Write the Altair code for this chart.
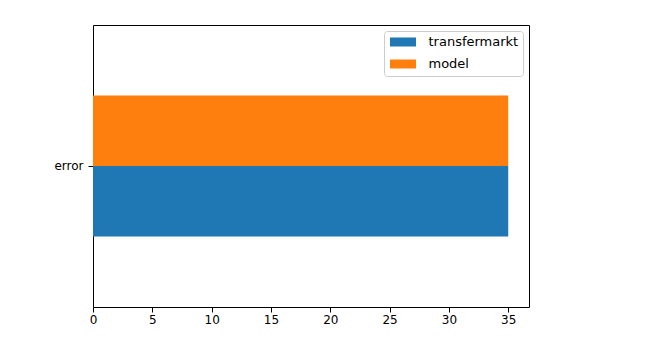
import altair as alt
import pandas as pd

categories = ["error"]
series = ["transfermarkt", "model"]
transfermarkt_values = [35]
model_values = [35]
colors = ["#1f77b4", "#ff7f0e"]
x_ticks = [0, 5, 10, 15, 20, 25, 30, 35]

rows = []
for i, c in enumerate(categories):
    rows.append({"category": c, "series": "transfermarkt", "value": transfermarkt_values[i]})
    rows.append({"category": c, "series": "model", "value": model_values[i]})
df = pd.DataFrame(rows)

font = "DejaVu Sans"
fs = 12

chart = alt.Chart(df).mark_bar().encode(
    x=alt.X("value:Q",
            scale=alt.Scale(domain=[0, 36.75], nice=False, zero=True),
            axis=alt.Axis(values=x_ticks, title=None, grid=False, tickSize=5,
                          labelFontSize=fs, labelFont=font, labelColor="black",
                          tickColor="black", domain=False, labelPadding=2,
                          labelFlush=False)),
    y=alt.Y("category:N",
            scale=alt.Scale(paddingInner=0, paddingOuter=0.5),
            axis=alt.Axis(title=None, grid=False, tickSize=5, labelFontSize=fs,
                          labelFont=font, labelColor="black", tickColor="black",
                          domain=False, labelPadding=5)),
    yOffset=alt.YOffset("series:N", sort=["model", "transfermarkt"],
                        scale=alt.Scale(paddingInner=0, paddingOuter=0)),
    color=alt.Color("series:N",
                    scale=alt.Scale(domain=series, range=colors),
                    legend=alt.Legend(title=None, orient="top-right", offset=6,
                                      fillColor="white", strokeColor="#cccccc",
                                      cornerRadius=3, padding=4.5,
                                      symbolType="M-2.17,-0.75L2.17,-0.75L2.17,0.75L-2.17,0.75Z",
                                      symbolSize=144, symbolStrokeWidth=0,
                                      symbolOffset=8,
                                      labelFontSize=13, labelFont=font,
                                      labelColor="black", labelOffset=19,
                                      rowPadding=8)),
).properties(
    width=436, height=282,
    autosize=alt.AutoSizeParams(type="none"),
    padding={"left": 85, "top": 17, "right": 100, "bottom": 38},
).configure_view(
    stroke="black", strokeWidth=1
)

chart.save("out.html", embed_options={"renderer": "svg", "actions": False})
